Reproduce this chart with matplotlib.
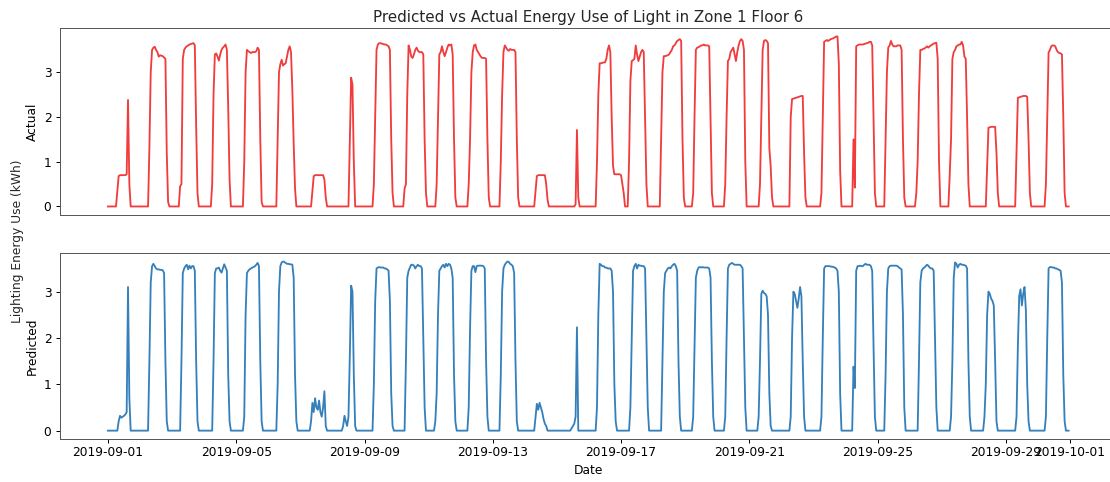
import numpy as np
import pandas as pd
import matplotlib
matplotlib.use("Agg")
import matplotlib.pyplot as plt

# hourly lighting energy, Zone 1 Floor 6, September 2019
# per day: first non-zero hour, then the hourly kWh readings from that hour on
actual_start = [7, 7, 6, 6, 6, 7, 9, 13, 7, 6,
                6, 6, 6, 8, 14, 6, 6, 6, 6, 6,
                8, 7, 6, 6, 6, 5, 6, 10, 8, 6]
actual_vals = [
    [0.35, 0.68, 0.7, 0.7, 0.7, 0.7, 0.7, 0.72, 2.38, 0.5],
    [1.3, 3.0, 3.5, 3.55, 3.57, 3.5, 3.45, 3.35, 3.38, 3.37, 3.36, 3.33, 3.3, 1.2, 0.1],
    [0.45, 0.5, 3.3, 3.5, 3.55, 3.58, 3.6, 3.62, 3.63, 3.64, 3.65, 3.6, 1.8, 0.3],
    [0.5, 2.5, 3.4, 3.42, 3.35, 3.26, 3.4, 3.5, 3.55, 3.58, 3.62, 3.5, 2.2, 0.6],
    [1.0, 3.0, 3.5, 3.47, 3.45, 3.43, 3.45, 3.45, 3.45, 3.47, 3.55, 3.5, 1.5, 0.1],
    [1.5, 3.0, 3.18, 3.28, 3.15, 3.18, 3.2, 3.35, 3.5, 3.58, 3.45, 2.6, 1.4, 0.4],
    [0.35, 0.68, 0.7, 0.7, 0.7, 0.7, 0.7, 0.7, 0.7, 0.6, 0.2],
    [1.5, 2.88, 2.72, 1.0],
    [0.5, 2.0, 3.5, 3.62, 3.65, 3.65, 3.64, 3.63, 3.62, 3.62, 3.6, 3.58, 3.5, 1.5, 0.3],
    [0.4, 0.5, 2.5, 3.6, 3.5, 3.35, 3.32, 3.4, 3.5, 3.55, 3.48, 3.45, 3.45, 3.45, 3.4, 1.5, 0.3],
    [0.5, 2.0, 3.4, 3.45, 3.58, 3.45, 3.36, 3.45, 3.55, 3.62, 3.6, 3.62, 3.4, 1.5, 0.2],
    [0.5, 1.5, 3.0, 3.45, 3.6, 3.62, 3.5, 3.45, 3.4, 3.35, 3.32, 3.32, 3.32, 3.3, 1.5, 0.2],
    [1.0, 2.5, 3.45, 3.6, 3.55, 3.5, 3.48, 3.52, 3.5, 3.5, 3.5, 3.45, 1.5, 0.2],
    [0.35, 0.68, 0.7, 0.7, 0.7, 0.7, 0.7, 0.7, 0.5, 0.15],
    [0.05, 1.71, 0.2],
    [1.0, 2.5, 3.2, 3.2, 3.21, 3.22, 3.22, 3.3, 3.5, 3.6, 3.45, 2.0, 0.9, 0.72, 0.72,
     0.72, 0.72, 0.72, 0.7, 0.5, 0.3, 0.0],
    [1.0, 2.8, 3.25, 3.27, 3.3, 3.6, 3.4, 3.25, 3.35, 3.45, 3.5, 3.45, 2.0, 0.5],
    [1.5, 3.0, 3.36, 3.36, 3.37, 3.38, 3.4, 3.45, 3.5, 3.58, 3.6, 3.65, 3.7, 3.72, 3.74, 3.7, 1.5, 0.2],
    [0.3, 2.0, 3.5, 3.55, 3.56, 3.58, 3.6, 3.6, 3.62, 3.6, 3.6, 3.6, 3.58, 2.0, 0.3],
    [0.5, 2.0, 3.25, 3.3, 3.45, 3.5, 3.55, 3.4, 3.25, 3.45, 3.6, 3.7, 3.74, 3.7, 3.5, 1.0],
    [0.5, 2.0, 3.5, 3.7, 3.72, 3.7, 3.65, 1.3, 0.9, 0.2],
    [2.0, 2.4, 2.41, 2.42, 2.43, 2.44, 2.45, 2.46, 2.47, 2.47, 1.2, 0.2],
    [0.3, 2.0, 3.68, 3.7, 3.72, 3.7, 3.72, 3.74, 3.75, 3.76, 3.78, 3.8, 3.8, 3.2, 0.8],
    [1.5, 0.42, 3.58, 3.6, 3.62, 3.62, 3.62, 3.62, 3.63, 3.64, 3.65, 3.66, 3.68, 3.68, 3.6, 2.0, 0.3],
    [1.5, 3.0, 3.55, 3.6, 3.7, 3.62, 3.58, 3.58, 3.58, 3.6, 3.6, 3.6, 3.5, 1.5, 0.2],
    [0.3, 1.0, 2.5, 3.5, 3.5, 3.52, 3.53, 3.55, 3.58, 3.55, 3.58, 3.6, 3.62, 3.64, 3.65, 3.66, 3.3, 1.0],
    [0.7, 1.5, 3.3, 3.45, 3.5, 3.58, 3.6, 3.62, 3.62, 3.68, 3.6, 3.35, 3.3, 2.0, 0.5],
    [0.9, 1.76, 1.77, 1.78, 1.78, 1.78, 1.78, 1.2, 0.3],
    [1.2, 2.43, 2.44, 2.45, 2.46, 2.47, 2.47, 2.47, 2.45, 1.5, 0.3],
    [0.5, 2.0, 3.44, 3.5, 3.58, 3.6, 3.6, 3.58, 3.5, 3.45, 3.43, 3.42, 3.4, 2.0, 0.3],
]

pred_start = [8, 7, 7, 7, 6, 7, 8, 8, 7, 7,
              5, 6, 6, 8, 11, 6, 7, 7, 6, 6,
              7, 7, 6, 6, 6, 7, 7, 8, 8, 6]
pred_vals = [
    [0.2, 0.32, 0.28, 0.3, 0.32, 0.35, 0.4, 3.1, 0.7],
    [1.5, 3.2, 3.55, 3.6, 3.55, 3.5, 3.48, 3.48, 3.47, 3.47, 3.46, 3.4, 1.5, 0.2],
    [1.5, 3.4, 3.5, 3.55, 3.58, 3.48, 3.56, 3.5, 3.55, 3.55, 3.45, 1.5, 0.2],
    [1.5, 3.4, 3.5, 3.5, 3.52, 3.45, 3.41, 3.5, 3.59, 3.52, 3.45, 1.2, 0.2],
    [0.3, 2.5, 3.4, 3.45, 3.48, 3.5, 3.52, 3.53, 3.55, 3.58, 3.62, 3.55, 1.5, 0.2],
    [1.0, 3.0, 3.55, 3.63, 3.65, 3.64, 3.62, 3.6, 3.6, 3.59, 3.59, 3.58, 3.3, 1.2, 0.2],
    [0.2, 0.6, 0.4, 0.7, 0.5, 0.45, 0.65, 0.4, 0.3, 0.5, 0.85, 0.1],
    [0.1, 0.32, 0.2, 0.1, 0.3, 1.6, 3.13, 3.0, 1.2, 0.1],
    [1.0, 2.8, 3.5, 3.52, 3.53, 3.52, 3.52, 3.52, 3.5, 3.5, 3.48, 3.45, 2.8, 0.8, 0.1],
    [1.5, 3.3, 3.45, 3.52, 3.58, 3.58, 3.56, 3.5, 3.55, 3.58, 3.55, 3.55, 3.5, 2.0, 0.5],
    [0.2, 0.8, 2.5, 3.45, 3.5, 3.55, 3.58, 3.52, 3.6, 3.55, 3.6, 3.58, 3.5, 3.3, 1.2, 0.2],
    [0.5, 2.2, 3.45, 3.55, 3.55, 3.42, 3.55, 3.56, 3.56, 3.56, 3.56, 3.55, 3.5, 1.5, 0.3],
    [1.2, 3.0, 3.5, 3.58, 3.62, 3.65, 3.64, 3.6, 3.58, 3.55, 3.4, 1.5, 0.2],
    [0.3, 0.58, 0.45, 0.6, 0.5, 0.4, 0.25, 0.15, 0.1],
    [0.05, 0.1, 0.15, 0.3, 2.23],
    [0.5, 2.5, 3.6, 3.58, 3.55, 3.55, 3.52, 3.52, 3.5, 3.5, 3.5, 3.45, 3.0, 1.0, 0.2],
    [0.5, 2.0, 3.45, 3.55, 3.6, 3.5, 3.58, 3.56, 3.56, 3.55, 3.55, 3.5, 2.0, 0.5],
    [1.5, 3.0, 3.4, 3.45, 3.5, 3.52, 3.5, 3.55, 3.58, 3.6, 3.55, 3.45, 1.5, 0.3],
    [0.3, 1.8, 3.3, 3.45, 3.52, 3.53, 3.52, 3.53, 3.52, 3.52, 3.52, 3.52, 3.5, 3.3, 1.5, 0.3],
    [0.3, 2.0, 3.5, 3.58, 3.6, 3.62, 3.6, 3.58, 3.58, 3.58, 3.58, 3.58, 3.55, 3.5, 2.0, 0.5],
    [0.3, 1.5, 2.95, 3.02, 2.97, 2.95, 2.9, 2.5, 0.8, 0.1],
    [0.3, 2.0, 3.0, 2.95, 2.8, 2.65, 2.85, 3.1, 2.9, 1.5, 0.3],
    [0.3, 2.0, 3.5, 3.55, 3.55, 3.55, 3.55, 3.54, 3.54, 3.53, 3.52, 3.5, 3.45, 3.0, 0.8],
    [1.38, 0.92, 3.45, 3.55, 3.55, 3.56, 3.55, 3.55, 3.58, 3.6, 3.58, 3.58, 3.58, 3.55, 3.45, 1.8, 0.3],
    [1.2, 3.0, 3.5, 3.55, 3.56, 3.56, 3.56, 3.56, 3.56, 3.55, 3.52, 3.5, 3.48, 2.5, 0.5],
    [1.5, 3.2, 3.45, 3.5, 3.52, 3.55, 3.58, 3.56, 3.52, 3.5, 3.5, 3.45, 2.0, 0.5],
    [0.3, 1.5, 3.3, 3.63, 3.6, 3.52, 3.58, 3.6, 3.58, 3.58, 3.57, 3.56, 3.5, 1.5, 0.3],
    [0.3, 1.0, 2.5, 3.0, 2.95, 2.85, 2.8, 2.7, 1.5, 0.2],
    [0.3, 1.8, 2.9, 3.05, 2.7, 2.95, 3.1, 2.6, 1.0, 0.2],
    [0.3, 2.0, 3.5, 3.53, 3.53, 3.52, 3.52, 3.5, 3.5, 3.48, 3.47, 3.45, 3.2, 1.2, 0.2],
]

hours = pd.date_range("2019-09-01", periods=720, freq="h")


def to_hourly(starts, vals):
    out = np.zeros(len(hours))
    for day, (s, v) in enumerate(zip(starts, vals)):
        i = day * 24 + s
        out[i:i + len(v)] = v
    return out


actual = to_hourly(actual_start, actual_vals)
predicted = to_hourly(pred_start, pred_vals)

plt.rcParams["text.color"] = "#262626"
plt.rcParams["axes.edgecolor"] = "#555555"

fig = plt.figure(figsize=(1110 / 88, 482 / 88), dpi=88)
ax1 = fig.add_axes([0.054, 0.554, 0.952, 0.388])
ax2 = fig.add_axes([0.054, 0.089, 0.952, 0.386], sharex=ax1)

ax1.plot(hours, actual, color="#f03c3c", lw=1.5)
ax2.plot(hours, predicted, color="#3580bb", lw=1.5)

ax1.tick_params(bottom=False, labelbottom=False)
ax2.tick_params(axis="x", pad=2)
ax1.set_ylabel("Actual")
ax2.set_ylabel("Predicted")
ax2.set_xlabel("Date")
ax1.set_title("Predicted vs Actual Energy Use of Light in Zone 1 Floor 6",
              fontsize=12.4, pad=5)
fig.text(0.016, 0.5, "Lighting Energy Use (kWh)", rotation=90, va="center", ha="center")

fig.savefig("out.png", dpi=88)
